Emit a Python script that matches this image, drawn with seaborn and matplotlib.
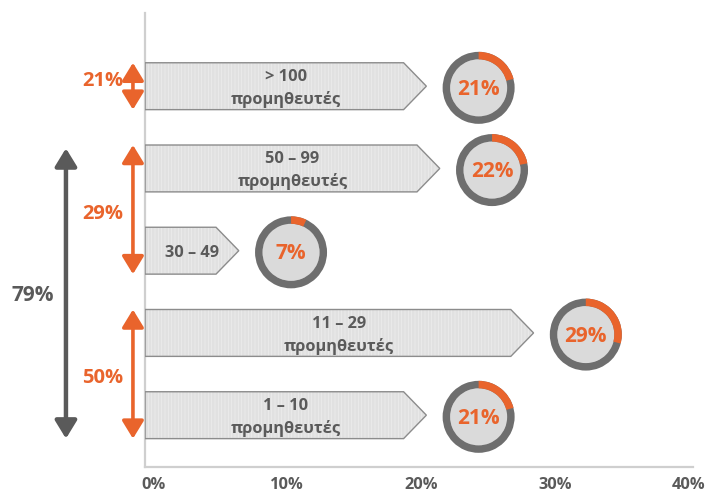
import numpy as np
import pandas as pd
import seaborn as sns
import matplotlib
matplotlib.use("Agg")
import matplotlib.pyplot as plt
from matplotlib.patches import Polygon, Wedge, Circle
import matplotlib.transforms as mtransforms

# Supplier-count groups, top to bottom, with their share of companies (%)
groups = ["> 100", "50 – 99", "30 – 49", "11 – 29", "1 – 10"]
bar_text = ["> 100\nπρομηθευτές", "50 – 99\nπρομηθευτές", "30 – 49",
            "11 – 29\nπρομηθευτές", "1 – 10\nπρομηθευτές"]
shares = [21, 22, 7, 29, 21]

# Bracketed subtotals on the left (rows covered, value)
bracket_rows = [(0, 0), (1, 2), (3, 4)]
bracket_values = [21, 29, 50]
total_rows = (1, 4)
total_value = 79

x_ticks = [0, 10, 20, 30, 40]
x_tick_labels = ["0%", "10%", "20%", "30%", "40%"]

ORANGE = "#e9642c"
DARK = "#5a5a5a"
RING = "#6e6e6e"
INNER = "#dadada"
BAR_FILL = "#e1e1e1"
BAR_HATCH = "#ececec"
BAR_EDGE = "#8c8c8c"
SPINE = "#cfcfcf"

sns.set_theme(style="white")
plt.rcParams["font.family"] = ["Open Sans", "DejaVu Sans"]
plt.rcParams["hatch.linewidth"] = 0.6

fig = plt.figure(figsize=(7.08, 4.95), dpi=100)
ax = fig.add_axes([145 / 708, 1 - 467 / 495, (693 - 145) / 708, (467 - 13) / 495])

df = pd.DataFrame({"group": groups, "share": shares})
sns.barplot(data=df, x="share", y="group", orient="h", width=0.57,
            color=BAR_FILL, errorbar=None, ax=ax)

ax.set_xlim(0, 40.9)
ax.set_ylim(4.63, -0.89)

# Turn each bar into an arrow-shaped block pointing at its value
TIP = 1.7
bars = list(ax.patches)
for p in bars:
    x0, y0, w, h = p.get_x(), p.get_y(), p.get_width(), p.get_height()
    pts = [(x0, y0), (x0 + w - TIP, y0), (x0 + w, y0 + h / 2),
           (x0 + w - TIP, y0 + h), (x0, y0 + h)]
    ax.add_patch(Polygon(pts, closed=True, facecolor=BAR_FILL, edgecolor=BAR_HATCH,
                         hatch="|||||", lw=0, zorder=2))
    ax.add_patch(Polygon(pts, closed=True, fill=False, edgecolor=BAR_EDGE,
                         lw=1.0, zorder=3))
    p.remove()

for i, (txt, s) in enumerate(zip(bar_text, shares)):
    ax.text(s / 2, i + 0.03, txt, ha="center", va="center", fontsize=11.8,
            fontweight="bold", color=DARK, linespacing=1.45, zorder=4)

# Donut badges next to each arrow
R, W = 0.36, 0.075
for i, s in enumerate(shares):
    cx = s + 3.9
    trans = fig.dpi_scale_trans + mtransforms.ScaledTranslation(cx, i + 0.02, ax.transData)
    ax.add_patch(Circle((0, 0), R - W, facecolor=INNER, edgecolor="none",
                        transform=trans, zorder=2, clip_on=False))
    ax.add_patch(Wedge((0, 0), R, 0, 360, width=W, facecolor=RING, edgecolor="none",
                       transform=trans, zorder=3, clip_on=False))
    ax.add_patch(Wedge((0, 0), R, 90 - s * 3.6, 90, width=W, facecolor=ORANGE,
                       edgecolor="none", transform=trans, zorder=4, clip_on=False))
    ax.text(cx, i + 0.04, f"{s}%", ha="center", va="center", fontsize=15,
            fontweight="bold", color=ORANGE, zorder=5)

# Brackets on the left
HALF = 0.285
arrow_kw = dict(arrowstyle="<|-|>,head_length=0.9,head_width=0.55",
                shrinkA=0, shrinkB=0, mutation_scale=12)
for (a, b), v in zip(bracket_rows, bracket_values):
    ax.annotate("", xy=(-0.9, a - HALF), xytext=(-0.9, b + HALF), xycoords="data",
                arrowprops=dict(color=ORANGE, lw=2.6, **arrow_kw), annotation_clip=False)
    ax.text(-1.6, (a + b) / 2 - (0.06 if a == b else -0.05), f"{v}%", ha="right",
            va="center", fontsize=14.5, fontweight="bold", color=ORANGE)

a, b = total_rows
ax.annotate("", xy=(-5.9, a - HALF + 0.04), xytext=(-5.9, b + HALF), xycoords="data",
            arrowprops=dict(color=DARK, lw=3.2, **arrow_kw), annotation_clip=False)
ax.text(-8.35, 2.55, f"{total_value}%", ha="center", va="center", fontsize=15,
        fontweight="bold", color=DARK)

# Axes styling
sns.despine(ax=ax)
for side in ("left", "bottom"):
    ax.spines[side].set_color(SPINE)
    ax.spines[side].set_linewidth(1.6)
ax.set_yticks([])
ax.set_ylabel("")
ax.set_xlabel("")
ax.set_xticks(x_ticks)
ax.set_xticklabels(x_tick_labels, fontsize=11.8, fontweight="bold", color=DARK)
ax.tick_params(axis="x", length=0, pad=7)
shift = mtransforms.ScaledTranslation(8 / 100, 0, fig.dpi_scale_trans)
for lab in ax.get_xticklabels():
    lab.set_transform(lab.get_transform() + shift)

fig.savefig("out.png", dpi=100)
